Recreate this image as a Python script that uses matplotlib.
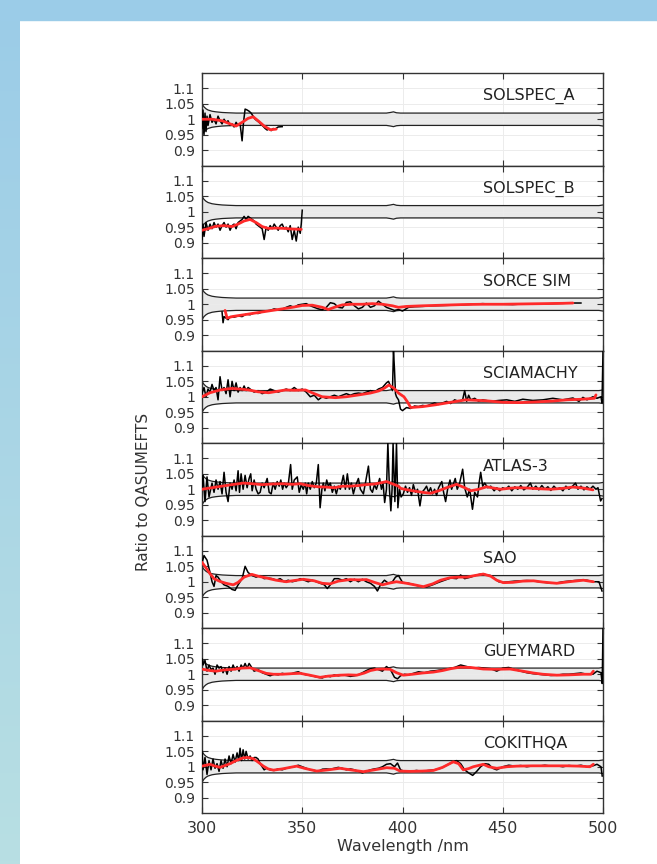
import numpy as np
import matplotlib
matplotlib.use("Agg")
import matplotlib.pyplot as plt
from matplotlib.patches import Rectangle

# ---------------- data ----------------
panel_names = ["SOLSPEC_A", "SOLSPEC_B", "SORCE SIM", "SCIAMACHY",
               "ATLAS-3", "SAO", "GUEYMARD", "COKITHQA"]

x_ticks = [300, 350, 400, 450, 500]
y_ticks = [0.9, 0.95, 1.0, 1.05, 1.1]
y_tick_labels = ["0.9", "0.95", "1", "1.05", "1.1"]

# reference uncertainty envelope (shared by all panels)
env_wl = [300, 301, 302, 303, 305, 307, 310, 313, 317, 322, 330, 392, 394, 395.5, 397, 399, 480, 498, 500]
env_upper = [1.05, 1.04, 1.034, 1.03, 1.026, 1.024, 1.022, 1.021, 1.02, 1.02, 1.02, 1.02, 1.022, 1.024, 1.021, 1.02, 1.02, 1.02, 1.022]
env_lower = [0.95, 0.96, 0.966, 0.97, 0.974, 0.976, 0.978, 0.979, 0.98, 0.98, 0.98, 0.98, 0.978, 0.976, 0.979, 0.98, 0.98, 0.98, 0.978]

solspec_a_black = [(300, 0.97), (300.5, 1.03), (301, 0.95), (301.5, 1.02), (302, 0.96), (302.5, 1.01), (303, 0.98),
                   (304, 1.015), (305, 0.99), (306, 1.0), (307, 0.985), (308, 1.01), (309, 0.995), (310, 0.985),
                   (311, 1.0), (312, 0.99), (313, 0.995), (314, 0.98), (315, 0.985), (316, 0.975), (317, 0.99),
                   (318, 0.98), (319, 0.985), (320, 0.93), (320.7, 0.99), (321.5, 1.033), (322.5, 1.03),
                   (323.5, 1.026), (324.5, 1.02), (325.5, 1.01), (326.5, 1.0), (327.5, 0.995), (328.5, 0.99),
                   (329.5, 0.983), (330.5, 0.977), (331.5, 0.97), (332.5, 0.965), (333.5, 0.97), (334.5, 0.963),
                   (335.5, 0.97), (336.5, 0.968), (338, 0.975), (340, 0.976)]
solspec_a_red = [(300, 1.0), (305, 1.0), (310, 0.995), (314, 0.985), (317, 0.978), (320, 0.99), (323, 1.003),
                 (325.5, 1.008), (328, 0.995), (331, 0.978), (334, 0.966), (337, 0.968)]

solspec_b_black = [(300, 0.91), (300.5, 0.96), (301, 0.92), (302, 0.965), (303, 0.94), (304, 0.96), (305, 0.945),
                   (306, 0.965), (307, 0.95), (308, 0.96), (309, 0.94), (310, 0.955), (311, 0.965), (312, 0.95),
                   (313, 0.96), (314, 0.94), (315, 0.955), (316, 0.96), (317, 0.945), (318, 0.965), (319, 0.97),
                   (320, 0.975), (321, 0.985), (322, 0.975), (323, 0.985), (324, 0.98), (325, 0.975), (326, 0.97),
                   (327, 0.96), (328, 0.955), (329, 0.95), (330, 0.945), (331, 0.91), (332, 0.95), (333, 0.94),
                   (334, 0.955), (335, 0.945), (336, 0.96), (337, 0.95), (338, 0.94), (339, 0.955), (340, 0.96),
                   (341, 0.945), (342, 0.95), (343, 0.935), (344, 0.955), (345, 0.91), (346, 0.94), (347, 0.905),
                   (348, 0.95), (349, 0.93), (349.5, 0.96), (350, 1.005)]
solspec_b_red = [(300, 0.94), (303, 0.945), (307, 0.953), (311, 0.955), (315, 0.952), (318, 0.96), (321, 0.97),
                 (324, 0.975), (327, 0.965), (330, 0.952), (333, 0.946), (337, 0.947), (341, 0.946),
                 (345, 0.944), (349.5, 0.943)]

sorce_black = [(310, 0.975), (310.5, 0.94), (311, 0.96), (312, 0.955), (313, 0.95), (314, 0.96), (316, 0.958),
               (318, 0.962), (320, 0.96), (322, 0.968), (324, 0.966), (326, 0.972), (328, 0.97), (330, 0.975),
               (332, 0.978), (334, 0.98), (336, 0.985), (338, 0.982), (340, 0.984), (342, 0.99), (344, 0.995),
               (346, 0.99), (348, 0.998), (350, 1.0), (352, 1.002), (354, 0.995), (356, 0.99), (358, 0.985),
               (360, 0.982), (362, 0.99), (364, 1.005), (366, 1.002), (368, 0.99), (370, 0.988), (372, 1.006),
               (374, 1.008), (376, 0.995), (378, 0.985), (380, 0.99), (382, 1.004), (384, 0.99), (386, 0.995),
               (388, 1.01), (390, 1.0), (392, 0.99), (394, 0.985), (396, 0.98), (398, 0.983), (400, 0.978),
               (403, 0.99), (406, 0.992), (410, 0.993), (415, 0.995), (420, 0.996), (425, 0.997), (430, 0.998),
               (435, 1.0), (440, 1.002), (445, 1.0), (450, 1.0), (455, 0.999), (460, 1.001), (465, 1.0),
               (470, 1.001), (475, 1.002), (480, 1.003), (485, 1.004), (489, 1.004)]
sorce_red = [(311.5, 0.98), (312.5, 0.955), (315, 0.96), (320, 0.965), (325, 0.97), (330, 0.975), (335, 0.98),
             (340, 0.985), (345, 0.99), (350, 0.996), (355, 0.997), (360, 0.99), (363, 0.983), (366, 0.99),
             (370, 0.998), (375, 1.0), (380, 1.0), (385, 1.002), (390, 1.0), (395, 0.995), (398, 0.99),
             (402, 0.993), (410, 0.995), (420, 0.997), (430, 0.999), (440, 1.0), (450, 1.0), (460, 1.001),
             (470, 1.002), (480, 1.003), (485, 1.004)]

sciamachy_black = [(300, 1.01), (301, 1.03), (302, 1.0), (303, 1.025), (304, 1.015), (305, 1.04), (306, 1.02),
                   (307, 1.03), (308, 0.99), (309, 1.065), (310, 1.02), (311, 1.03), (312, 1.01), (313, 1.055),
                   (314, 1.0), (315, 1.05), (316, 1.02), (317, 1.045), (318, 1.015), (319, 1.03), (320, 1.02),
                   (321, 1.035), (322, 1.02), (323, 1.03), (324, 1.025), (325, 1.02), (326, 1.015), (328, 1.02),
                   (330, 1.01), (332, 1.015), (334, 1.025), (336, 1.02), (338, 1.015), (340, 1.02), (342, 1.025),
                   (344, 1.02), (346, 1.03), (348, 1.02), (350, 1.025), (352, 1.015), (354, 1.0), (356, 1.005),
                   (358, 0.99), (360, 1.0), (362, 0.995), (364, 1.0), (366, 1.005), (368, 1.0), (370, 1.005),
                   (372, 1.01), (374, 1.005), (376, 1.01), (378, 1.012), (380, 1.01), (382, 1.015), (384, 1.02),
                   (386, 1.015), (388, 1.025), (390, 1.03), (392, 1.045), (393, 1.05), (394, 1.035), (395, 1.02),
                   (395.5, 1.15), (396, 1.09), (396.5, 1.01), (397, 1.0), (398, 0.99), (399, 0.96), (400, 0.955),
                   (401, 0.96), (402, 0.965), (404, 0.962), (406, 0.97), (408, 0.968), (410, 0.972), (412, 0.97),
                   (414, 0.975), (416, 0.98), (418, 0.975), (420, 0.98), (422, 0.985), (424, 0.978), (426, 0.99),
                   (428, 0.985), (430, 0.99), (431, 1.02), (432, 0.985), (433, 1.005), (434, 0.99), (436, 0.995),
                   (438, 0.985), (440, 0.99), (444, 0.985), (448, 0.988), (452, 0.99), (456, 0.985), (460, 0.992),
                   (465, 0.988), (470, 0.99), (475, 0.995), (480, 0.99), (485, 0.996), (488, 0.985), (490, 0.998),
                   (492, 0.99), (495, 1.0), (497, 0.995), (499, 1.0), (499.5, 0.98), (500, 1.15)]
sciamachy_red = [(300, 1.0), (304, 1.013), (309, 1.022), (315, 1.027), (319, 1.025), (323.3, 1.022),
                 (328, 1.016), (333.3, 1.013), (337, 1.017), (341.6, 1.022), (346, 1.021), (351.6, 1.022),
                 (356, 1.01), (359.9, 1.0), (366.6, 0.997), (372, 1.0), (378.2, 1.006), (384, 1.012),
                 (388.2, 1.019), (391, 1.028), (393.2, 1.038), (395.7, 1.028), (398, 1.012), (400.7, 1.0),
                 (402.4, 0.984), (404.1, 0.965), (410, 0.968), (416.6, 0.974), (424, 0.982), (431.6, 0.99),
                 (441.6, 0.987), (450, 0.982), (458.2, 0.981), (466, 0.983), (474.8, 0.986), (482, 0.99),
                 (489.8, 0.992), (495.7, 0.995), (496.5, 1.006)]

atlas_black = [(300, 1.0), (300.5, 1.045), (301.5, 0.96), (302.5, 1.04), (303.5, 0.975), (305, 1.02), (306, 0.99),
               (307, 1.03), (308, 1.0), (309, 1.025), (310, 0.985), (311, 1.055), (312, 0.99), (313, 0.96),
               (314, 1.02), (315, 1.0), (316, 1.03), (317, 0.995), (318, 1.06), (318.7, 0.99), (319.5, 1.05),
               (320.5, 1.0), (321.5, 1.045), (322.5, 1.005), (323.5, 1.035), (324.3, 1.05), (325, 0.995),
               (326, 1.03), (327, 1.0), (328, 0.985), (329, 0.99), (330, 1.02), (331, 1.005), (332.5, 1.035),
               (333.5, 0.99), (334.5, 0.985), (335.5, 1.02), (336.5, 1.0), (337.5, 1.025), (338.5, 1.01),
               (339.3, 1.03), (340.2, 1.0), (341, 1.02), (342, 1.005), (343, 1.015), (344.2, 1.08), (345, 1.0),
               (346, 1.03), (347.5, 1.04), (348.5, 0.99), (349.5, 1.015), (350.5, 1.0), (351.5, 1.02),
               (352.2, 0.985), (353, 1.02), (354, 1.0), (355, 1.025), (356, 1.005), (357, 1.02), (358, 1.08),
               (358.9, 0.94), (359.8, 1.0), (360.5, 1.02), (361.3, 0.995), (362.2, 1.03), (363, 1.01),
               (364, 1.02), (365, 0.99), (366, 1.01), (367, 0.985), (368, 1.01), (369, 1.0), (370.5, 1.045),
               (371.5, 1.0), (372.5, 1.05), (373.5, 1.0), (374.5, 1.02), (375.5, 0.985), (376.5, 1.01),
               (378, 1.035), (379, 1.0), (380.5, 0.985), (381.5, 1.02), (383, 1.075), (384, 1.0), (385, 0.99),
               (386, 1.015), (387, 1.0), (388.6, 1.035), (389.5, 1.0), (390.3, 1.02), (391.1, 0.957),
               (392, 1.0), (392.7, 1.15), (393.5, 1.0), (394.2, 0.93), (394.8, 1.0), (395.3, 1.15),
               (396.2, 0.96), (397, 1.15), (397.7, 0.94), (398.5, 1.0), (399.3, 0.975), (400.4, 0.985),
               (401.5, 1.01), (402.5, 0.99), (403.5, 1.005), (404.5, 0.98), (405.4, 1.015), (406.5, 0.99),
               (407.5, 1.0), (408.7, 0.946), (409.7, 0.99), (411, 1.0), (412, 1.01), (413, 0.99), (414, 1.005),
               (415, 0.985), (416, 1.0), (417, 0.98), (418, 1.005), (419.6, 1.025), (420.5, 0.99),
               (421.5, 0.96), (422.5, 1.0), (423.7, 1.03), (424.5, 1.0), (425.5, 1.02), (426.3, 1.035),
               (427.3, 1.0), (428.5, 1.02), (430, 1.065), (431, 1.005), (432.3, 0.975), (433.5, 1.0),
               (434.9, 0.935), (436, 0.99), (437.4, 0.975), (438.2, 1.02), (439, 1.055), (440, 1.01),
               (441, 1.02), (442.5, 1.005), (444, 1.01), (445.7, 0.995), (447, 1.005), (448.5, 0.995),
               (450, 1.005), (451.5, 1.0), (453, 1.01), (454.5, 0.995), (456, 1.008), (457.5, 1.0),
               (459, 1.012), (460.5, 0.998), (462, 1.005), (463.8, 1.02), (465, 1.0), (466.5, 1.01),
               (468, 0.998), (469.5, 1.012), (471, 1.0), (472.5, 1.008), (474, 0.996), (475.5, 1.01),
               (477, 1.0), (478.5, 1.005), (480, 0.995), (481.5, 1.01), (483, 1.0), (484.5, 1.008),
               (486.3, 1.02), (487.5, 1.0), (489, 1.01), (490.5, 0.998), (492, 1.008), (493.5, 1.0),
               (495, 1.01), (496.5, 1.0), (497.5, 1.005), (498.8, 0.962), (499.5, 0.97)]
atlas_red = [(300, 1.0), (305, 1.005), (310, 1.01), (315, 1.015), (320.6, 1.02), (325, 1.018), (330, 1.015),
             (335, 1.017), (340, 1.018), (345, 1.016), (349, 1.018), (353, 1.012), (358, 1.008), (362, 1.007),
             (366, 1.005), (370, 1.01), (374, 1.01), (378, 1.012), (382, 1.015), (386, 1.017), (390, 1.022),
             (392, 1.025), (394, 1.02), (396, 1.015), (398, 1.01), (399, 1.003), (401, 1.0), (405, 0.995),
             (410, 0.99), (414, 0.987), (418, 0.995), (422, 1.005), (427, 1.016), (431, 1.005), (434, 0.995),
             (438, 1.0), (442, 1.008), (446, 1.003), (449, 1.0), (453, 1.003), (457, 1.005), (462, 1.004),
             (467, 1.002), (474, 1.0), (480, 1.003), (485, 1.007), (490, 1.004), (495, 0.998)]

sao_black = [(300, 1.06), (301, 1.085), (302.5, 1.07), (304, 1.03), (305, 1.0), (306, 0.985), (307, 1.02),
             (308, 1.015), (309.5, 1.0), (311, 0.99), (313, 0.985), (315, 0.975), (316.5, 0.972), (318, 0.99),
             (320, 1.01), (321.5, 1.05), (323, 1.03), (325, 1.02), (327, 1.015), (329, 1.02), (331, 1.01),
             (333, 1.012), (335, 1.01), (337, 1.005), (339, 1.01), (341, 1.0), (343, 1.005), (345, 1.0),
             (347, 1.003), (349, 1.01), (351, 1.005), (353, 1.0), (355, 1.005), (357, 1.0), (359, 0.995),
             (361, 0.99), (362.5, 0.978), (364, 0.99), (366, 1.01), (368, 1.01), (370, 1.005), (372, 1.01),
             (374, 1.0), (376, 1.008), (378, 1.0), (380, 1.008), (382, 1.0), (384, 0.995), (386, 0.985),
             (387.5, 0.97), (389, 0.99), (391, 1.005), (393, 0.995), (395, 1.0), (396.5, 1.015), (398, 1.02),
             (400, 0.998), (403, 0.995), (406, 0.99), (409, 0.985), (412, 0.983), (415, 0.99), (418, 0.998),
             (421, 1.005), (424, 1.012), (427, 1.01), (429, 1.022), (431, 1.01), (434, 1.015), (437, 1.022),
             (440, 1.026), (442, 1.022), (444, 1.02), (446, 1.01), (448, 1.0), (450, 0.998), (453, 1.0),
             (456, 1.002), (459, 1.003), (462, 1.004), (465, 1.003), (468, 1.0), (471, 0.998), (474, 0.995),
             (477, 0.996), (480, 1.0), (483, 1.002), (486, 1.004), (489, 1.005), (492, 1.005), (495, 1.0),
             (498, 1.0), (499.5, 0.97)]
sao_red = [(300, 1.063), (302, 1.045), (304, 1.026), (306, 1.01), (309, 1.001), (312, 0.995), (315.6, 0.99),
           (318, 0.998), (321, 1.015), (324.8, 1.024), (328, 1.018), (332.3, 1.012), (337, 1.005), (342, 1.0),
           (346, 1.004), (350.5, 1.008), (356, 1.003), (360, 0.995), (363.8, 0.993), (368, 1.002),
           (373.8, 1.007), (378, 1.006), (382, 1.007), (386, 0.998), (390, 0.99), (393, 0.995), (397, 1.0),
           (402, 0.995), (406, 0.99), (410.4, 0.984), (415, 0.993), (419, 1.005), (423.7, 1.013), (428, 1.015),
           (432, 1.015), (436, 1.02), (440.3, 1.025), (444, 1.018), (447, 1.005), (450.3, 0.997), (455, 0.998),
           (460, 1.002), (465.3, 1.003), (470, 0.999), (476.9, 0.995), (483, 1.0), (490.2, 1.005),
           (495.2, 1.0)]

gueymard_black = [(300, 1.05), (300.5, 1.03), (301.5, 1.045), (302.5, 1.01), (303.5, 1.03), (304.5, 1.015),
                  (305.5, 1.02), (306.5, 1.0), (307.5, 1.03), (308.5, 1.02), (309.5, 1.025), (310.5, 1.005),
                  (311.5, 1.02), (312.5, 1.0), (313.5, 1.025), (314.5, 1.01), (315.5, 1.03), (316.5, 1.015),
                  (317.5, 1.025), (318.5, 1.01), (319.5, 1.03), (320.5, 1.02), (321.5, 1.035), (322.5, 1.02),
                  (323.5, 1.035), (324.5, 1.025), (326, 1.01), (328, 1.015), (330, 1.005), (332, 1.0),
                  (334, 0.995), (336, 1.0), (338, 0.998), (340, 1.003), (342, 1.0), (344, 1.0), (346, 1.005),
                  (348, 1.008), (350, 1.002), (352, 0.998), (354, 0.996), (356, 0.993), (358, 0.99),
                  (360, 0.988), (362, 0.995), (364, 0.992), (366, 0.998), (368, 0.995), (370, 0.998),
                  (372, 0.996), (374, 0.993), (376, 0.995), (378, 0.998), (380, 1.005), (382, 1.012),
                  (384, 1.018), (386, 1.02), (388, 1.015), (390, 1.01), (392, 1.025), (394, 1.015), (396, 0.99),
                  (397.5, 0.985), (399, 0.995), (401, 1.0), (403, 0.998), (405, 1.002), (408, 1.008),
                  (411, 1.005), (414, 1.01), (417, 1.012), (420, 1.015), (423, 1.018), (426, 1.022),
                  (429, 1.03), (432, 1.025), (435, 1.02), (438, 1.022), (441, 1.02), (444, 1.018), (447, 1.01),
                  (450, 1.02), (453, 1.022), (456, 1.015), (459, 1.01), (462, 1.005), (465, 1.002), (468, 1.0),
                  (471, 0.998), (474, 0.996), (477, 0.997), (480, 1.0), (483, 1.0), (486, 1.002), (489, 1.004),
                  (492, 1.0), (495, 1.0), (497, 1.01), (499, 1.005), (499.6, 0.97), (500, 1.15)]
gueymard_red = [(300.5, 1.016), (304, 1.012), (307, 1.01), (311, 1.014), (315.6, 1.016), (320, 1.02),
                (324, 1.021), (328, 1.012), (332, 1.003), (335.6, 1.0), (340, 1.0), (345, 1.002),
                (348.9, 1.003), (353, 0.998), (358.9, 0.99), (363, 0.994), (368.8, 0.997), (373, 0.998),
                (377.2, 0.997), (381, 1.004), (384, 1.012), (387.1, 1.016), (390, 1.017), (393.8, 1.016),
                (397, 1.005), (400.4, 0.997), (405, 1.0), (410, 1.004), (415.4, 1.007), (420, 1.012),
                (424, 1.018), (428.7, 1.023), (434, 1.022), (440.3, 1.017), (446, 1.016), (453.6, 1.017),
                (460, 1.01), (465.3, 1.004), (470, 1.0), (476.9, 0.997), (483, 0.998), (490.2, 1.0),
                (494, 1.0), (495.2, 1.01)]

cokithqa_black = [(300, 1.05), (300.5, 0.99), (301.5, 1.03), (302.5, 0.975), (303.5, 1.02), (304.5, 0.99),
                  (305.5, 1.025), (306.5, 0.995), (307.5, 1.01), (308.5, 0.985), (309.5, 1.02), (310.5, 0.995),
                  (311.5, 1.025), (312.5, 1.0), (313.5, 1.035), (314.5, 1.01), (315.5, 1.04), (316.5, 1.015),
                  (317.5, 1.045), (318.3, 1.02), (319, 1.06), (319.7, 1.02), (320.5, 1.055), (321.3, 1.025),
                  (322, 1.05), (323, 1.025), (324, 1.035), (325, 1.02), (326, 1.03), (327, 1.03), (328, 1.025),
                  (329, 1.01), (330, 1.0), (331, 0.99), (332, 0.995), (334, 0.99), (336, 0.988), (338, 0.993),
                  (340, 0.99), (342, 0.995), (344, 0.998), (346, 1.0), (348, 1.005), (350, 1.0), (352, 0.995),
                  (354, 0.99), (356, 0.988), (358, 0.985), (360, 0.992), (362, 0.993), (364, 0.992),
                  (366, 0.995), (368, 0.998), (370, 0.995), (372, 0.99), (374, 0.993), (376, 0.99),
                  (378, 0.985), (380, 0.98), (382, 0.985), (384, 0.99), (386, 0.993), (388, 0.995), (390, 1.0),
                  (392, 1.008), (394, 1.01), (396, 1.0), (397.5, 1.012), (399, 0.99), (401, 0.985),
                  (404, 0.985), (407, 0.988), (410, 0.985), (413, 0.988), (416, 0.99), (419, 0.995),
                  (422, 1.005), (425, 1.015), (427, 1.02), (429, 1.01), (431, 0.99), (433, 0.98), (435, 0.972),
                  (437, 0.985), (439, 1.0), (441, 1.01), (443, 1.008), (445, 0.995), (447, 0.99), (450, 1.0),
                  (453, 1.005), (456, 1.002), (459, 1.004), (462, 1.0), (465, 1.003), (468, 1.002),
                  (471, 1.005), (474, 1.002), (477, 1.003), (480, 1.0), (483, 1.004), (486, 1.002),
                  (489, 1.005), (492, 1.0), (495, 1.003), (497, 1.008), (499, 1.0), (499.6, 0.97)]
cokithqa_red = [(300, 1.002), (302, 1.005), (304, 1.008), (306, 1.003), (309, 0.998), (311.5, 1.004),
                (314, 1.01), (317, 1.02), (320.6, 1.029), (323, 1.03), (325.6, 1.026), (328, 1.015),
                (330.6, 1.002), (333, 0.993), (335.6, 0.989), (340, 0.993), (344, 0.998), (347.2, 1.002),
                (351, 0.995), (357.2, 0.986), (363, 0.99), (368.8, 0.995), (374, 0.99), (380.5, 0.984),
                (386, 0.99), (392.1, 0.997), (396, 0.995), (398.8, 0.986), (403.7, 0.985), (410, 0.986),
                (415.4, 0.988), (420, 0.998), (425.3, 1.016), (428, 1.01), (430.3, 0.99), (433, 0.994),
                (435.3, 1.0), (440.3, 1.008), (443, 1.0), (447, 0.995), (452, 1.0), (457, 1.002),
                (465, 1.003), (475, 1.003), (482, 1.003), (488, 1.002), (493.5, 1.0), (495.2, 1.008)]

black_series = [solspec_a_black, solspec_b_black, sorce_black, sciamachy_black,
                atlas_black, sao_black, gueymard_black, cokithqa_black]
red_series = [solspec_a_red, solspec_b_red, sorce_red, sciamachy_red,
              atlas_red, sao_red, gueymard_red, cokithqa_red]

# ---------------- figure ----------------
W, H = 657, 864
fig = plt.figure(figsize=(W / 100, H / 100), dpi=100, facecolor="white")

# decorative background strips
bg = fig.add_axes([0, 0, 1, 1], zorder=-10)
bg.axis("off")
grad = np.linspace(0, 1, 256).reshape(-1, 1)
c_top = np.array([0x9B, 0xCC, 0xE8]) / 255.0
c_bot = np.array([0xB8, 0xDF, 0xE3]) / 255.0
img = c_top[None, None, :] * (1 - grad[:, :, None]) + c_bot[None, None, :] * grad[:, :, None]
bg.imshow(img, extent=[0, 20, H, 0], aspect="auto", zorder=0)
bg.add_patch(Rectangle((0, 0), W, 20, color="#9BCCE8", zorder=1))
bg.set_xlim(0, W)
bg.set_ylim(H, 0)

left_px, right_px = 202, 603
top_px, bottom_px = 73, 813
n = len(panel_names)
ph = (bottom_px - top_px) / n

frame_col = "#333333"
for i, name in enumerate(panel_names):
    y_top = top_px + i * ph
    ax = fig.add_axes([left_px / W, 1 - (y_top + ph) / H, (right_px - left_px) / W, ph / H])
    ax.set_xlim(300, 500)
    ax.set_ylim(0.85, 1.15)
    ax.set_xticks(x_ticks)
    ax.set_yticks(y_ticks)
    ax.set_yticklabels(y_tick_labels)
    ax.grid(True, color="#ececec", lw=0.7, ls="-", zorder=0)
    ax.fill_between(env_wl, env_lower, env_upper, color="#e9e9e9", lw=0, zorder=1)
    ax.plot(env_wl, env_upper, color="#222222", lw=0.9, zorder=2)
    ax.plot(env_wl, env_lower, color="#222222", lw=0.9, zorder=2)
    bw, bv = zip(*black_series[i])
    ax.plot(bw, bv, color="black", lw=1.1, zorder=3)
    rw, rv = zip(*red_series[i])
    ax.plot(rw, rv, color="#ff2a2a", lw=2.0, zorder=4, solid_capstyle="round")
    ax.text(440, 1.075, name, fontsize=11.5, color="#222222", ha="left", va="center", zorder=5)
    ax.tick_params(direction="in", length=4, width=0.8, top=True, right=True,
                   colors=frame_col, labelcolor="#333333")
    ax.tick_params(axis="y", labelsize=10, pad=5)
    ax.tick_params(axis="x", labelsize=11.5, pad=6)
    for sp in ax.spines.values():
        sp.set_color(frame_col)
        sp.set_linewidth(1.0)
    if i < n - 1:
        ax.tick_params(labelbottom=False)
    else:
        ax.set_xticklabels([str(t) for t in x_ticks])
        ax.set_xlabel("Wavelength /nm", fontsize=11.5, color="#333333", labelpad=2)

fig.text(143 / W, 1 - 492 / H, "Ratio to QASUMEFTS", rotation=90, fontsize=11,
         color="#333333", ha="center", va="center")

fig.savefig("out.png", dpi=100, facecolor="white")
